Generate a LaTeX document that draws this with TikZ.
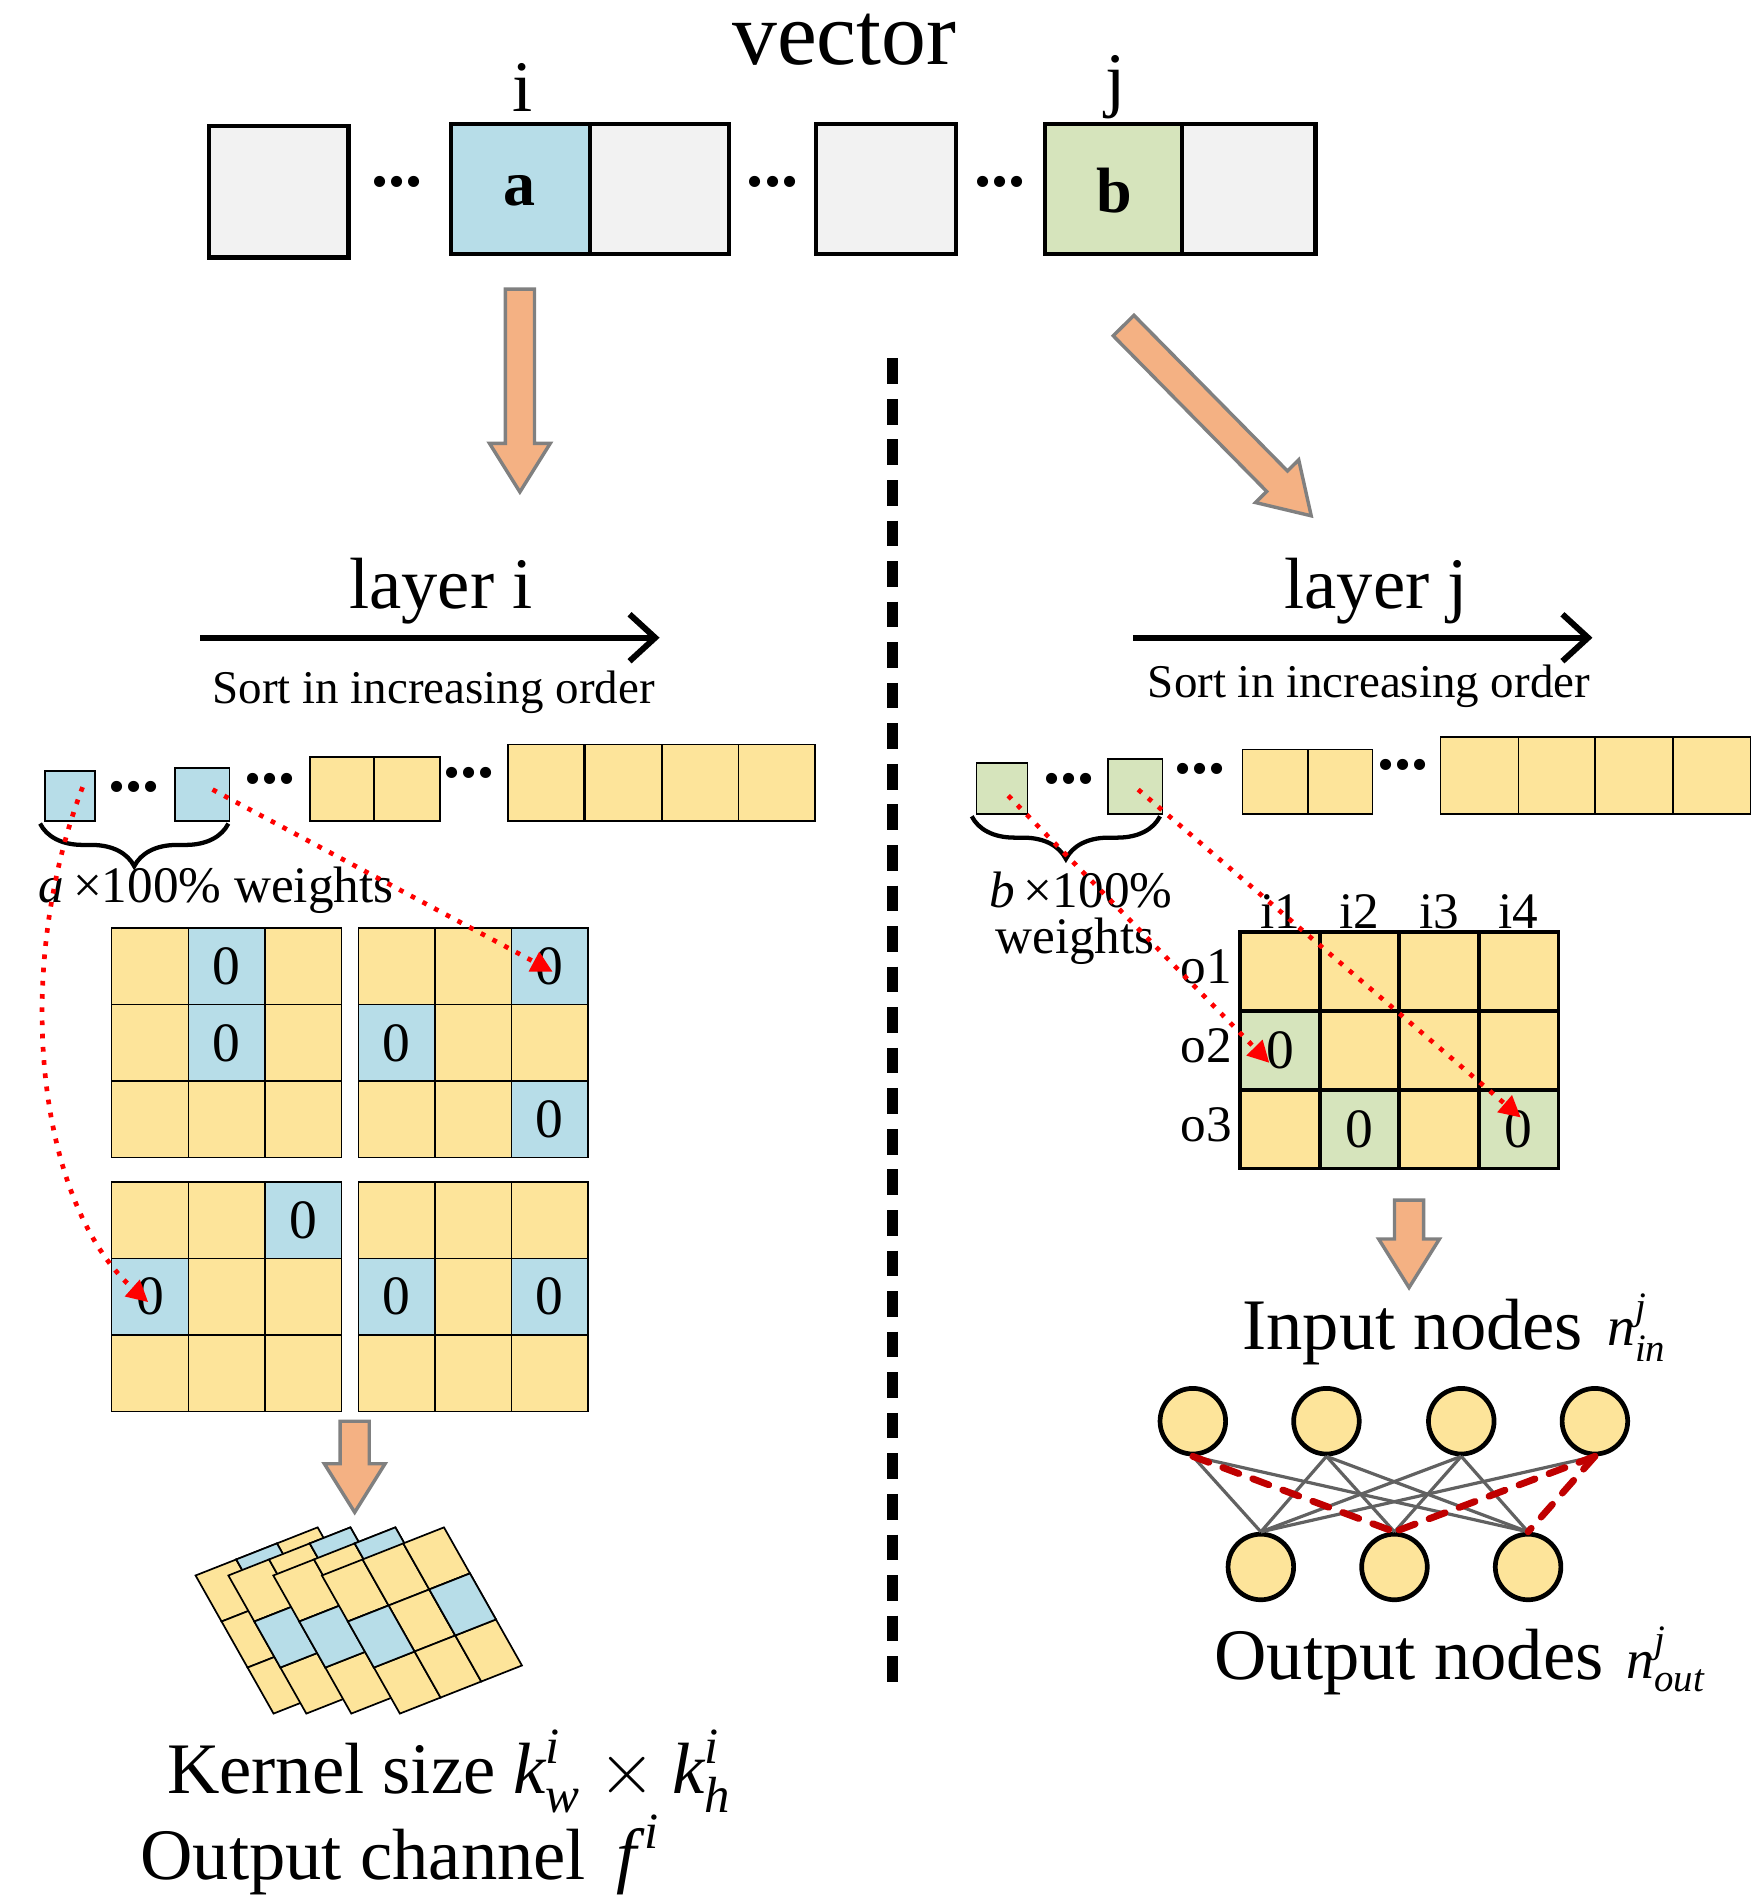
\documentclass[tikz,border=0pt]{standalone}
\usepackage{amsmath}
\usepackage{fontspec}
\setmainfont{Liberation Serif}
\usetikzlibrary{arrows.meta,decorations.pathreplacing}
\definecolor{gbox}{HTML}{F2F2F2}
\definecolor{bl}{HTML}{B7DDE8}
\definecolor{gr}{HTML}{D6E4BC}
\definecolor{ye}{HTML}{FDE49A}
\definecolor{orr}{HTML}{F4B183}
\definecolor{dred}{HTML}{C00000}
\newcommand\fs[1]{\fontsize{#1}{#1}\selectfont}
\newcommand\ti[1]{\textit{#1}}
\newcommand\bigarrow[4]{% x y angle length
 \begin{scope}[shift={(#1,#2)},rotate=#3]
  \draw[fill=orr,draw=gray,line width=0.8pt] (0,-12)--(#4-40,-12)--(#4-40,-25)--(#4,0)--(#4-40,25)--(#4-40,12)--(0,12)--cycle;
 \end{scope}}
\newcommand\cellgrid[5]{% cols rows bluecells colour linewidth ; in current coords with unit cells
  \foreach \c in {1,...,#1} \foreach \r in {1,...,#2}
    \draw[fill=ye,line width=#5] (\c-1,\r-1)--(\c,\r-1)--(\c,\r)--(\c-1,\r)--cycle;
  \foreach \c/\r in {#3}
    \draw[fill=#4,line width=#5] (\c,\r)--(\c+1,\r)--(\c+1,\r+1)--(\c,\r+1)--cycle;}
\newcommand\sqgrid[3]{% x y bluecells
 \begin{scope}[shift={(#1,#2)},x=6.3mm,y=-6.3mm]
  \cellgrid{3}{3}{#3}{bl}{0.35pt}
  \foreach \c/\r in {#3} \node[font=\fs{13}] at (\c+0.5,\r+0.5) {0};
 \end{scope}}
\newcommand\skgrid[3]{% x y bluecells
 \begin{scope}[shift={(#1,#2)},x={(3.35mm,1.32mm)},y={(2.14mm,-3.79mm)}]
  \cellgrid{3}{3}{#3}{bl}{0.4pt}
 \end{scope}}
\begin{document}
\begin{tikzpicture}[x=0.1mm,y=-0.1mm,
  dots/.style={font=\fs{16}\bfseries},
  red arr/.style={red,dotted,line width=1.1pt,-{Triangle[length=5pt,width=5pt]}},
  tn/.style={circle,draw,line width=1.1pt,fill=ye,minimum size=5.4mm,inner sep=0},
  ge/.style={draw=black!62,line width=0.75pt},
  re/.style={draw=dred,line width=1.6pt,dash pattern=on 4pt off 3.5pt,line cap=round},
  brc/.style={line width=1pt,decorate,decoration={brace,mirror,amplitude=10pt}}]
\useasboundingbox (0,0) rectangle (1450,1565);
% top vector
\node[font=\fs{21}] (vec) at (695,33) {vector};
\draw[line width=1pt,fill=gbox] (172,104) rectangle (287,212);
\draw[line width=1pt,fill=bl] (371,102) rectangle (486,209);
\draw[line width=1pt,fill=gbox] (486,102) rectangle (600,209);
\draw[line width=1pt,fill=gbox] (672,102) rectangle (787,209);
\draw[line width=1pt,fill=gr] (860,102) rectangle (973,209);
\draw[line width=1pt,fill=gbox] (973,102) rectangle (1083,209);
\node[font=\fs{15}\bfseries] (a) at (428,157) {a};
\node[font=\fs{15}\bfseries] (b) at (917,157) {b};
\node[font=\fs{17}] (li) at (430,72) {i};
\node[font=\fs{17}] (lj) at (918,72) {j};
\node[dots] at (327,150) {...};
\node[dots] at (636,150) {...};
\node[dots] at (823,150) {...};
% big arrows
\bigarrow{428}{238}{-90}{167}
\bigarrow{925}{268}{-45.4}{220}
% divider
\draw[line width=2.5pt,dash pattern=on 6pt off 3.5pt] (735,295) -- (735,1395);
% left header
\node[font=\fs{17}] (lay1) at (363,487) {layer i};
\draw[line width=1.4pt,-{Straight Barb[length=6pt,width=11pt]}] (165,525) -- (543,525);
\node[font=\fs{11}] (s1) at (357,570) {Sort in increasing order};
\draw[line width=0.4pt,fill=bl] (37,635) rectangle (78,676);
\draw[line width=0.4pt,fill=bl] (144,632) rectangle (189,676);
\node[dots] at (110,648) {...};
\node[dots] at (222,641) {...};
\node[dots] at (386,636) {...};
\foreach \x/\w in {255/53,308/54} \draw[line width=0.4pt,fill=ye] (\x,623) rectangle ++(\w,53);
\foreach \x in {418,482,545,608} \draw[line width=0.4pt,fill=ye] (\x,613) rectangle ++(63,63);
\draw[brc] (33,678) -- (188,678);
\node[font=\fs{12}] (wa) at (178,733) {\ti{a}\,×100\% weights};
\sqgrid{92}{764}{1/0,1/1}
\sqgrid{295}{764}{2/0,0/1,2/2}
\sqgrid{92}{973}{2/0,0/1}
\sqgrid{295}{973}{0/1,2/1}
\coordinate (p1) at (68,648); \coordinate (q1) at (122,1072);
\coordinate (p2) at (175,650); \coordinate (q2) at (455,800);
\draw[red arr] (p1) .. controls (10,800) and (30,990) .. (q1);
\draw[red arr] (p2) -- (q2);
\bigarrow{292}{1170}{-90}{75}
\skgrid{161}{1297}{1/0,1/1}
\skgrid{188}{1297}{2/0,0/1,2/2}
\skgrid{225}{1297}{2/0,0/1}
\skgrid{265}{1297}{0/1,2/1}
\node[font=\fs{17}] (ks) at (370,1458) {Kernel size $\ti{k}^{\ti{i}}_{\ti{w}}\times \ti{k}^{\ti{i}}_{\ti{h}}$};
\node[font=\fs{17}] (oc) at (330,1527) {Output channel \,$\ti{f}^{\,\ti{i}}$};
% right header
\node[font=\fs{17}] (lay2) at (1133,487) {layer j};
\draw[line width=1.4pt,-{Straight Barb[length=6pt,width=11pt]}] (933,525) -- (1311,525);
\node[font=\fs{11}] (s2) at (1127,565) {Sort in increasing order};
\draw[line width=0.4pt,fill=gr] (804,628) rectangle (846,670);
\draw[line width=0.4pt,fill=gr] (912,625) rectangle (957,670);
\node[dots] at (880,641) {...};
\node[dots] at (988,633) {...};
\node[dots] at (1155,630) {...};
\foreach \x/\w in {1023/54,1077/53} \draw[line width=0.4pt,fill=ye] (\x,617) rectangle ++(\w,53);
\foreach \x in {1186,1250,1313,1377} \draw[line width=0.4pt,fill=ye] (\x,607) rectangle ++(64,63);
\draw[brc] (800,672) -- (955,672);
\node[font=\fs{12}] (wb) at (890,733) {\ti{b}\,×100\%};
\node[font=\fs{12}] (wb2) at (885,775) {weights};
\begin{scope}[shift={(1021,767)},x=6.55mm,y=-6.5mm]
 \cellgrid{4}{3}{0/1,1/2,3/2}{gr}{0.9pt}
 \foreach \c/\r in {0/1,1/2,3/2} \node[font=\fs{13}] at (\c+0.5,\r+0.5) {0};
 \foreach \c in {1,...,4} \node[font=\fs{12}] at (\c-0.5,-0.25) {i\c};
 \foreach \r in {1,2,3} \node[font=\fs{12}] at (-0.43,\r-0.55) {o\r};
\end{scope}
\coordinate (p3) at (830,655); \coordinate (q3) at (1045,875);
\coordinate (p4) at (937,650); \coordinate (q4) at (1252,920);
\draw[red arr] (p3) -- (q3);
\draw[red arr] (p4) -- (q4);
\bigarrow{1160}{988}{-90}{72}
\node[font=\fs{17}] (in) at (1163,1097) {Input nodes};
\node[font=\fs{13}] (nin) at (1348,1093) {$\ti{n}^{\ti{j}}_{\ti{in}}$};
\node[font=\fs{17}] (on) at (1160,1368) {Output nodes};
\node[font=\fs{13}] (nout) at (1372,1366) {$\ti{n}^{\ti{j}}_{\ti{out}}$};
\foreach \i/\x in {1/982,2/1092,3/1203,4/1313} \node[tn] (t\i) at (\x,1170) {};
\foreach \i/\x in {1/1038,2/1148,3/1258} \node[tn] (b\i) at (\x,1290) {};
\foreach \s/\t in {1/1,1/3,2/1,2/2,2/3,3/1,3/2,3/3,4/1} \draw[ge] (t\s.south) -- (b\t.north);
\foreach \s/\t in {1/2,4/2,4/3} \draw[re] (t\s.south) -- (b\t.north);
\end{tikzpicture}
\end{document}
